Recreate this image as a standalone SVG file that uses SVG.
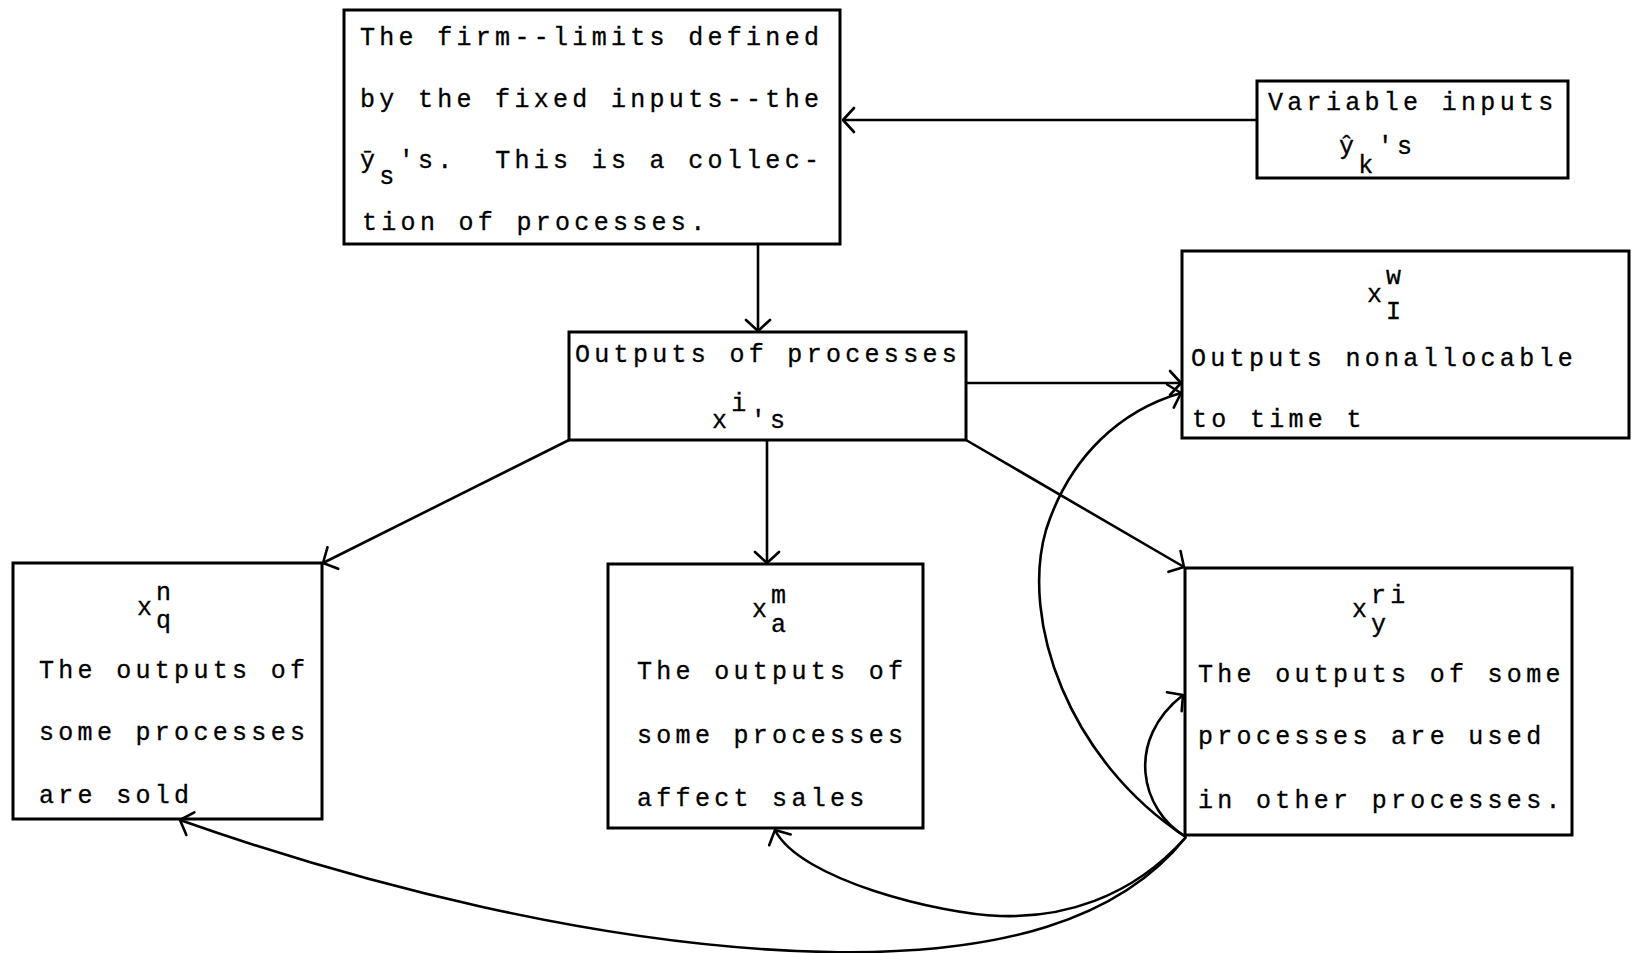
<svg xmlns="http://www.w3.org/2000/svg" width="1632" height="953" viewBox="0 0 1632 953">
  <style>
    .box { fill: #fff; stroke: #000; stroke-width: 3; }
    .t { font-family: "Liberation Mono", "DejaVu Sans Mono", monospace; font-size: 25px; letter-spacing: 4.3px; fill: #000; stroke: #000; stroke-width: 0.3; }
    .c { fill: none; stroke: #000; stroke-width: 2.6; marker-end: url(#arr); }
  </style>
  <defs>
    <!-- open V arrowhead -->
    <marker id="arr" markerUnits="userSpaceOnUse" viewBox="-16 -16 20 32" refX="0" refY="0" markerWidth="20" markerHeight="32" orient="auto" overflow="visible">
      <path d="M-11,-12 L0,0 L-11,12" fill="none" stroke="#000" stroke-width="2.6" stroke-linecap="round" stroke-linejoin="round"/>
    </marker>
  </defs>
  <rect width="1632" height="953" fill="#fff"/>

  <g id="node-firm">
    <rect class="box" x="344" y="10" width="496" height="234"/>
    <text class="t" x="360" y="45">The firm--limits defined</text>
    <text class="t" x="360" y="107">by the fixed inputs--the</text>
    <text class="t" x="360" y="168" xml:space="preserve">ȳ<tspan dy="16">s</tspan><tspan dy="-16">'s.  This is a collec-</tspan></text>
    <text class="t" x="362" y="230">tion of processes.</text>
  </g>

  <g id="node-variable-inputs">
    <rect class="box" x="1257" y="81" width="311" height="97"/>
    <text class="t" x="1268" y="110">Variable inputs</text>
    <text class="t" x="1339" y="154">ŷ<tspan dy="19">k</tspan><tspan dy="-19">'s</tspan></text>
  </g>

  <g id="node-outputs">
    <rect class="box" x="569" y="332" width="397" height="108"/>
    <text class="t" x="575" y="362">Outputs of processes</text>
    <text class="t" x="712" y="428">x<tspan dy="-17">i</tspan><tspan dy="17">'s</tspan></text>
  </g>

  <g id="node-nonallocable">
    <rect class="box" x="1182" y="251" width="447" height="187"/>
    <text class="t" x="1367" y="302">x</text>
    <text class="t" x="1386" y="284">w</text>
    <text class="t" x="1386" y="319">I</text>
    <text class="t" x="1191" y="366">Outputs nonallocable</text>
    <text class="t" x="1192" y="427">to time t</text>
  </g>

  <g id="node-sold">
    <rect class="box" x="13" y="563" width="309" height="256"/>
    <text class="t" x="137" y="615">x</text>
    <text class="t" x="156" y="600">n</text>
    <text class="t" x="156" y="628">q</text>
    <text class="t" x="39" y="678">The outputs of</text>
    <text class="t" x="39" y="740">some processes</text>
    <text class="t" x="39" y="803">are sold</text>
  </g>

  <g id="node-sales">
    <rect class="box" x="608" y="564" width="315" height="264"/>
    <text class="t" x="752" y="617">x</text>
    <text class="t" x="771" y="603">m</text>
    <text class="t" x="771" y="632">a</text>
    <text class="t" x="637" y="679">The outputs of</text>
    <text class="t" x="637" y="743">some processes</text>
    <text class="t" x="637" y="806">affect sales</text>
  </g>

  <g id="node-used">
    <rect class="box" x="1185" y="568" width="387" height="267"/>
    <text class="t" x="1352" y="617">x</text>
    <text class="t" x="1371" y="603">ri</text>
    <text class="t" x="1371" y="632">y</text>
    <text class="t" x="1198" y="682">The outputs of some</text>
    <text class="t" x="1198" y="744">processes are used</text>
    <text class="t" x="1198" y="808">in other processes.</text>
  </g>

  <g id="connectors">
    <path class="c" d="M1257,120 L843,120"/>
    <path class="c" d="M758,245 L758,331"/>
    <path class="c" d="M966,383 L1181,383"/>
    <path class="c" d="M569,440 L323,563"/>
    <path class="c" d="M767,440 L767,563"/>
    <path class="c" d="M966,440 L1184,567"/>
    <path class="c" d="M1186,837 C1068,760 1020,620 1046,530 C1070,455 1122,410 1181,393"/>
    <path class="c" d="M1186,837 C1140,810 1125,740 1183,695"/>
    <path class="c" d="M1186,837 C1130,900 1060,918 1000,916 C940,914 800,880 775,830"/>
    <path class="c" d="M1186,837 C1120,920 1000,955 830,952 C600,948 350,880 180,820"/>
  </g>
</svg>
